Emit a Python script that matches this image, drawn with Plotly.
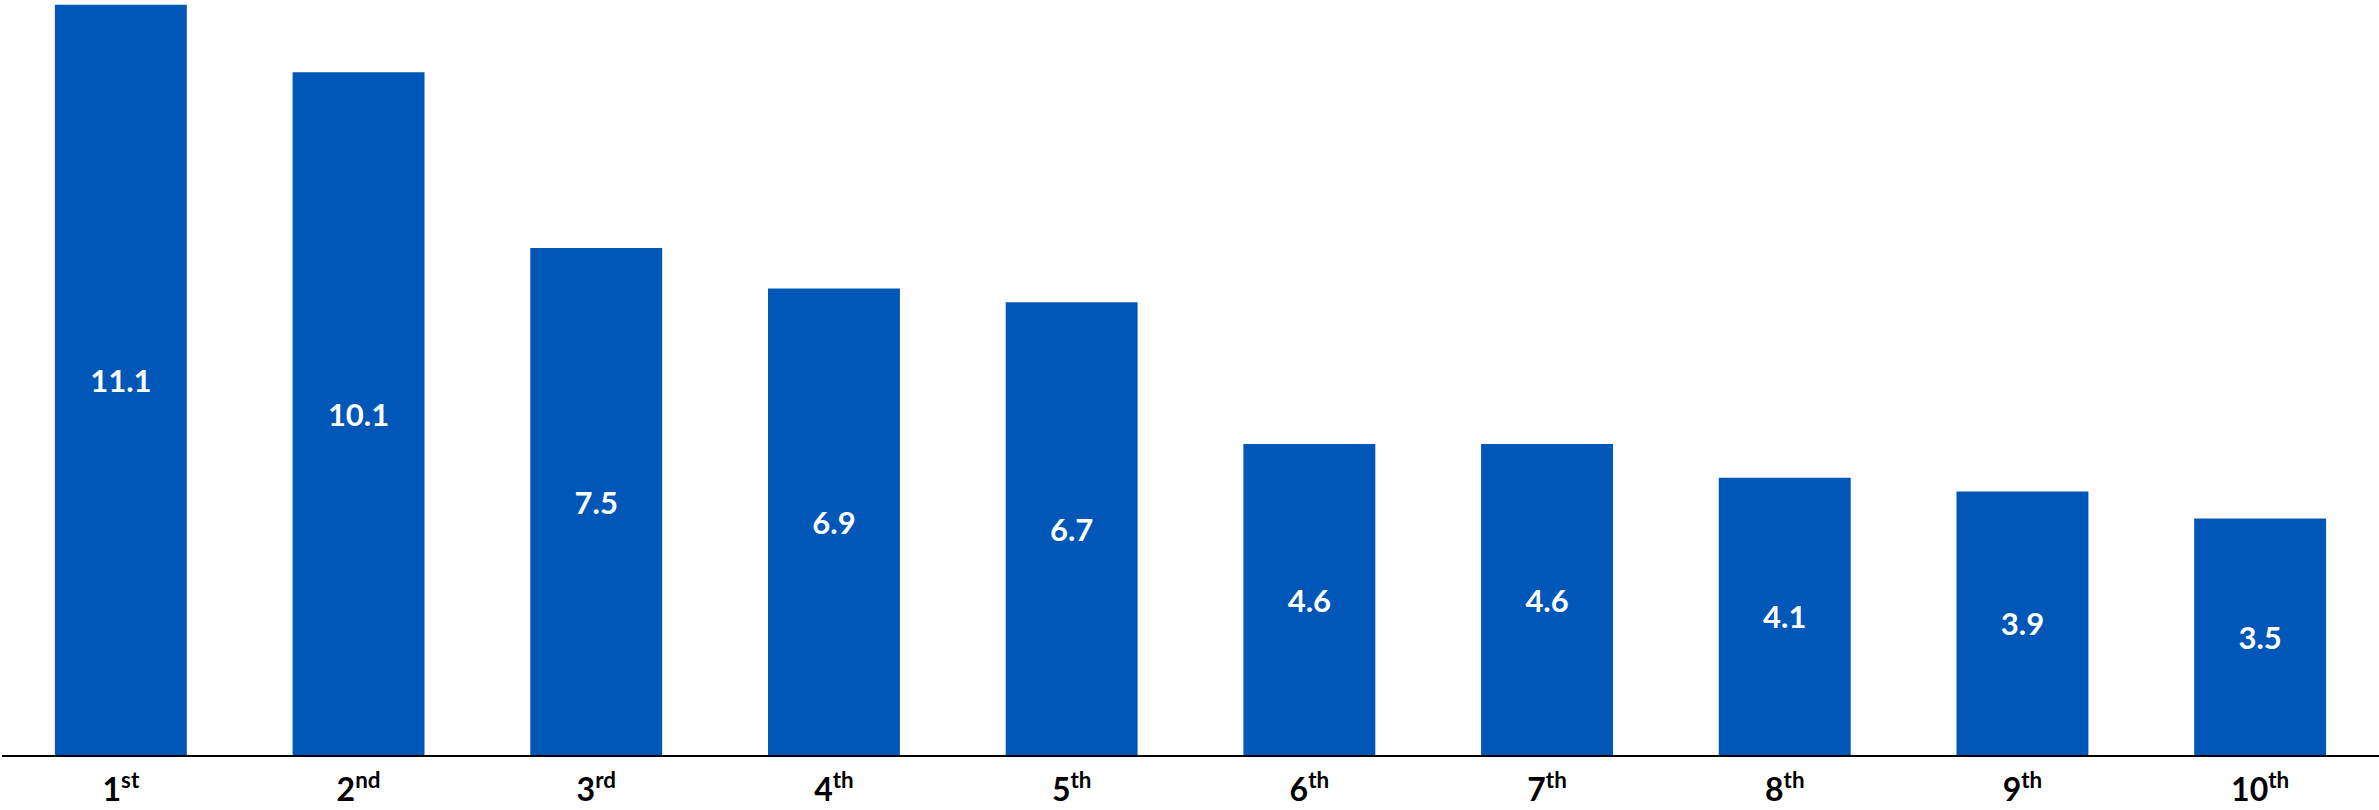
import plotly.graph_objects as go

# Ranked values, 1st through 10th
ranks = ["1st", "2nd", "3rd", "4th", "5th", "6th", "7th", "8th", "9th", "10th"]
rank_labels = ["1<sup>st</sup>", "2<sup>nd</sup>", "3<sup>rd</sup>", "4<sup>th</sup>", "5<sup>th</sup>",
               "6<sup>th</sup>", "7<sup>th</sup>", "8<sup>th</sup>", "9<sup>th</sup>", "10<sup>th</sup>"]
values = [11.1, 10.1, 7.5, 6.9, 6.7, 4.6, 4.6, 4.1, 3.9, 3.5]

BAR_BLUE = "#0057B7"
FONT = "Lato"

fig = go.Figure(
    go.Bar(
        x=ranks,
        y=values,
        marker=dict(color=BAR_BLUE, line=dict(width=0)),
        text=[f"{v:.1f}" for v in values],
        textposition="inside",
        insidetextanchor="middle",
        textangle=0,
        textfont=dict(family=FONT, size=31, color="white", weight="bold"),
        cliponaxis=False,
    )
)

fig.update_layout(
    width=2379,
    height=810,
    margin=dict(l=2, r=0, t=0, b=55),
    paper_bgcolor="white",
    plot_bgcolor="white",
    bargap=0.445,
    showlegend=False,
    uniformtext=dict(minsize=31, mode="show"),
)

fig.update_xaxes(
    tickmode="array",
    tickvals=ranks,
    ticktext=rank_labels,
    tickfont=dict(family=FONT, size=32, color="black", weight="bold"),
    ticklabelstandoff=6,
    showline=True,
    linecolor="black",
    linewidth=2,
    ticks="",
    showgrid=False,
    zeroline=False,
)

fig.update_yaxes(
    range=[0, 11.17],
    visible=False,
    showgrid=False,
    zeroline=False,
)

fig.write_html("out.html")
